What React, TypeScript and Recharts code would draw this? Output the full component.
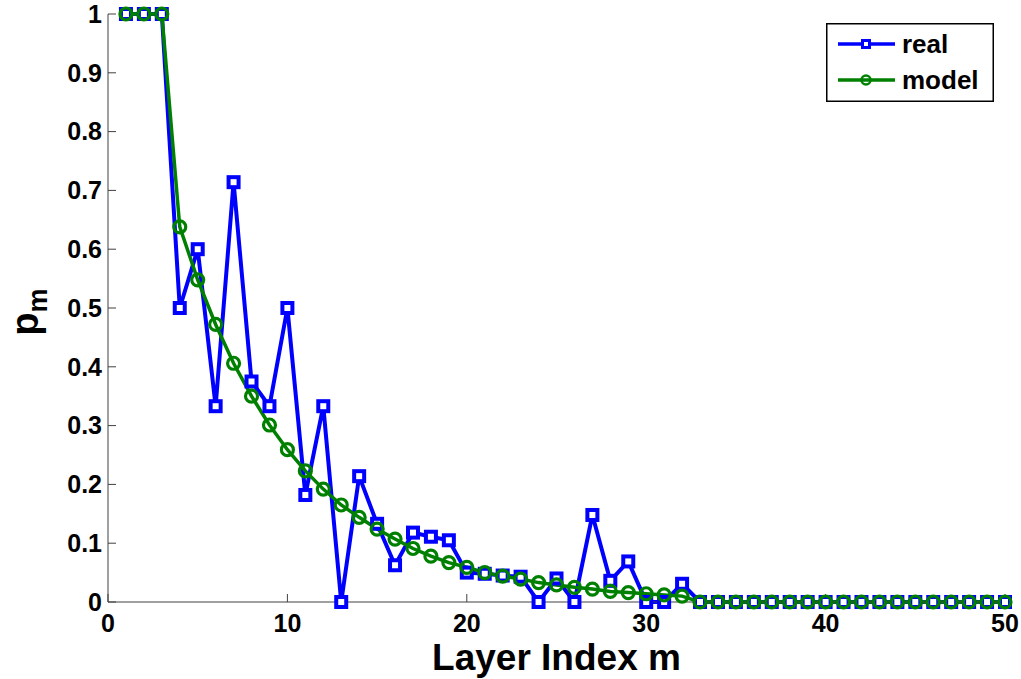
import { CartesianGrid, Legend, Line, LineChart, XAxis, YAxis } from 'recharts'

const BLUE = '#0000ff'
const GREEN = '#008000'
const AXIS = '#404040'
const FONT = '"Liberation Sans", Arial, sans-serif'

const layers = [
  1, 2, 3, 4, 5, 6, 7, 8, 9, 10, 11, 12, 13, 14, 15, 16, 17, 18, 19, 20, 21, 22, 23, 24, 25,
  26, 27, 28, 29, 30, 31, 32, 33, 34, 35, 36, 37, 38, 39, 40, 41, 42, 43, 44, 45, 46, 47, 48, 49, 50,
]

const real = [
  1, 1, 1, 0.5, 0.6, 0.333, 0.714, 0.375, 0.333, 0.5, 0.182, 0.333, 0, 0.214, 0.133, 0.0625,
  0.118, 0.111, 0.105, 0.05, 0.048, 0.045, 0.043, 0, 0.04, 0, 0.148, 0.036, 0.069, 0, 0, 0.031,
  0, 0, 0, 0, 0, 0, 0, 0, 0, 0, 0, 0, 0, 0, 0, 0, 0, 0,
]

const model = [
  1, 1, 1, 0.638, 0.548, 0.472, 0.406, 0.35, 0.301, 0.259, 0.223, 0.192, 0.165, 0.144, 0.124,
  0.107, 0.091, 0.078, 0.067, 0.059, 0.05, 0.044, 0.039, 0.033, 0.029, 0.025, 0.022, 0.018,
  0.016, 0.014, 0.012, 0.01,
  0, 0, 0, 0, 0, 0, 0, 0, 0, 0, 0, 0, 0, 0, 0, 0, 0, 0,
]

const xTicks = [0, 10, 20, 30, 40, 50]
const yTicks = [0, 0.1, 0.2, 0.3, 0.4, 0.5, 0.6, 0.7, 0.8, 0.9, 1]

const data = layers.map((m, i) => ({ m, real: real[i], model: model[i] }))

const tickStyle = { fontFamily: FONT, fontWeight: 700, fontSize: 25, fill: '#000' }

function SquareDot(props: any) {
  const { cx, cy, index } = props
  if (cx == null || cy == null) return null
  return <rect key={`sq-${index}`} x={cx - 5} y={cy - 5} width={10} height={10} fill="#fff" stroke={BLUE} strokeWidth={4} />
}

function CircleDot(props: any) {
  const { cx, cy, index } = props
  if (cx == null || cy == null) return null
  return <circle key={`ci-${index}`} cx={cx} cy={cy} r={6} fill="none" stroke={GREEN} strokeWidth={3.2} />
}

function LegendBox() {
  const txt = { fontFamily: FONT, fontWeight: 700, fontSize: 26, fill: '#000' }
  return (
    <svg width={168} height={79} style={{ display: 'block' }}>
      <rect x={0.75} y={0.75} width={166.5} height={77.5} fill="#fff" stroke="#000" strokeWidth={1.5} />
      <line x1={12} x2={69} y1={21} y2={21} stroke={BLUE} strokeWidth={3.5} />
      <rect x={36.5} y={17.5} width={7} height={7} fill="#fff" stroke={BLUE} strokeWidth={3} />
      <text x={76} y={30} {...txt}>real</text>
      <line x1={12} x2={69} y1={57} y2={57} stroke={GREEN} strokeWidth={3.5} />
      <circle cx={40} cy={57} r={4.5} fill="none" stroke={GREEN} strokeWidth={2.5} />
      <text x={76} y={66} {...txt}>model</text>
    </svg>
  )
}

export default function App() {
  return (
    <div style={{ position: 'absolute', left: 0, top: 0, background: '#fff' }}>
      <LineChart width={1021} height={679} data={data} margin={{ top: 14, right: 16, bottom: 0, left: 0 }}>
        <CartesianGrid stroke="none" />
        <XAxis
          dataKey="m"
          type="number"
          domain={[0, 50]}
          ticks={xTicks}
          height={77}
          tick={tickStyle}
          tickSize={-8}
          tickMargin={20}
          axisLine={{ stroke: AXIS, strokeWidth: 1 }}
          tickLine={{ stroke: AXIS, strokeWidth: 1 }}
          label={{
            content: (p: any) => {
              const vb = p.viewBox
              return (
                <text x={vb.x + vb.width / 2} y={vb.y + 68} textAnchor="middle"
                  style={{ fontFamily: FONT, fontWeight: 700, fontSize: 37, fill: '#000' }}>
                  Layer Index m
                </text>
              )
            },
          }}
        />
        <YAxis
          type="number"
          domain={[0, 1]}
          ticks={yTicks}
          width={108}
          tick={tickStyle}
          tickSize={-8}
          tickMargin={14}
          axisLine={{ stroke: AXIS, strokeWidth: 1 }}
          tickLine={{ stroke: AXIS, strokeWidth: 1 }}
          label={{
            content: (p: any) => {
              const vb = p.viewBox
              const cx = 38
              const cy = vb.y + vb.height / 2 + 4
              return (
                <text x={cx} y={cy} transform={`rotate(-90 ${cx} ${cy})`} textAnchor="middle"
                  style={{ fontFamily: FONT, fontWeight: 700, fontSize: 38, fill: '#000' }}>
                  p<tspan fontSize={27} dy={9}>m</tspan>
                </text>
              )
            },
          }}
        />
        <Legend
          layout="vertical"
          verticalAlign="middle"
          align="center"
          wrapperStyle={{ left: 826, top: 23, width: 168, height: 79 }}
          content={() => <LegendBox />}
        />
        <Line dataKey="real" name="real" stroke={BLUE} strokeWidth={4} dot={SquareDot} isAnimationActive={false} />
        <Line dataKey="model" name="model" stroke={GREEN} strokeWidth={3.5} dot={CircleDot} isAnimationActive={false} />
      </LineChart>
    </div>
  )
}
